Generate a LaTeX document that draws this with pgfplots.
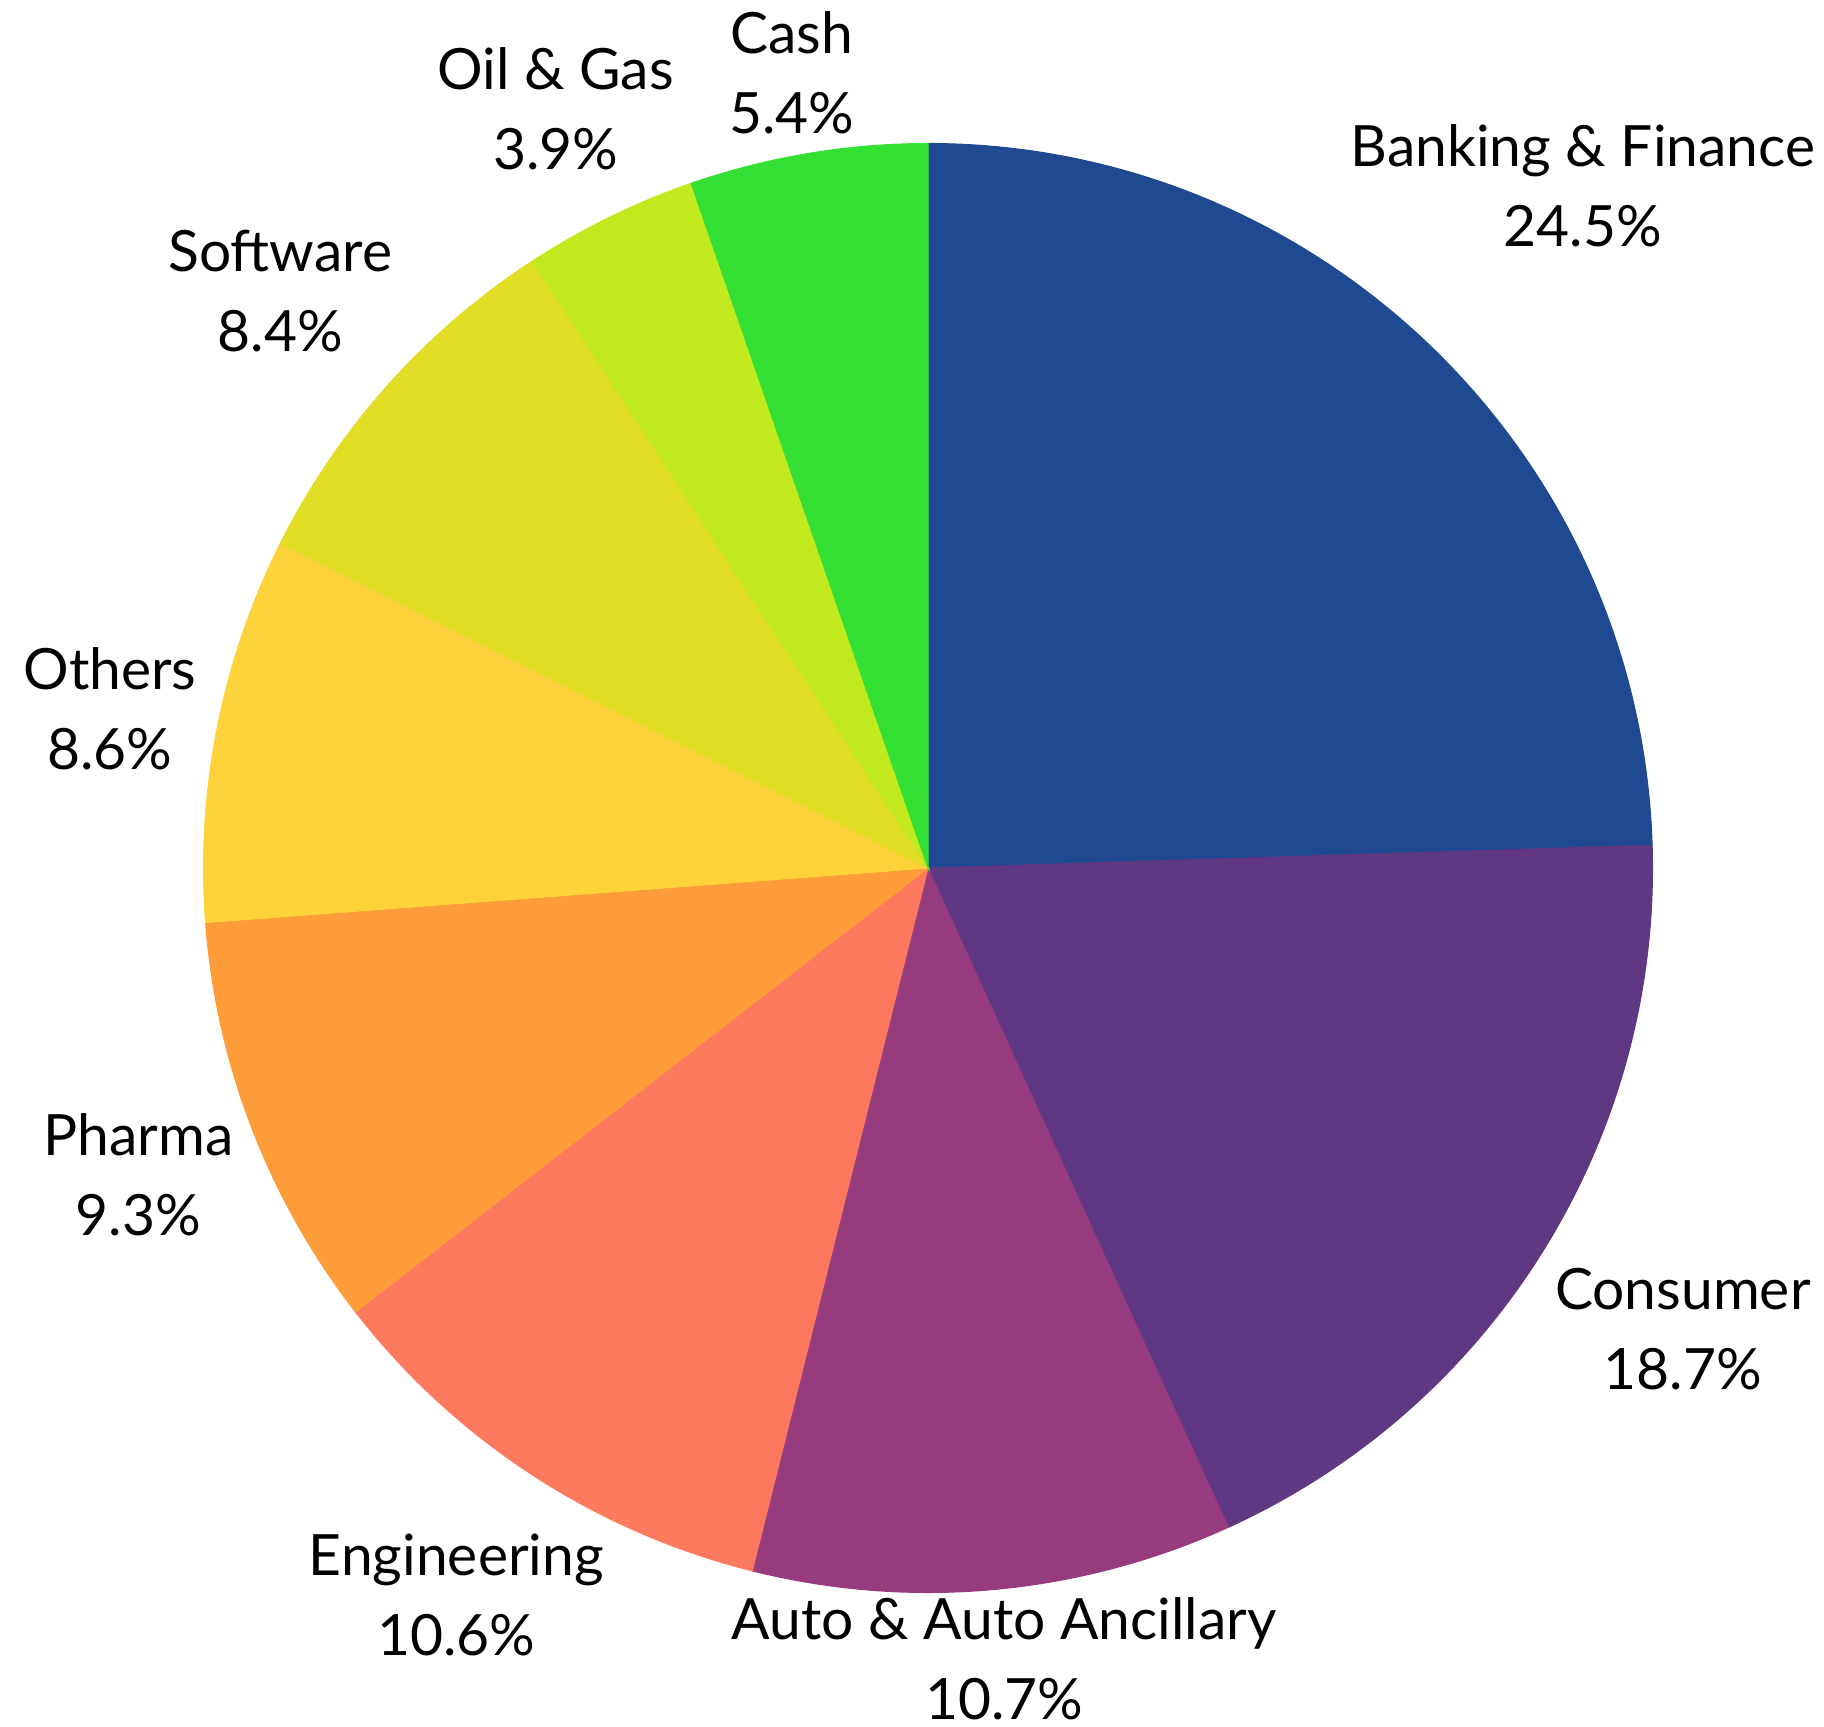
\documentclass[border=0pt]{standalone}
\usepackage{pgfplots}
\pgfplotsset{compat=1.18}
\usepackage{fontspec}
\setmainfont{Lato}
\definecolor{cBank}{RGB}{31,74,145}
\definecolor{cCons}{RGB}{96,55,131}
\definecolor{cAuto}{RGB}{151,59,127}
\definecolor{cEng}{RGB}{254,122,95}
\definecolor{cPhar}{RGB}{253,156,56}
\definecolor{cOth}{RGB}{254,210,58}
\definecolor{cSoft}{RGB}{226,221,37}
\definecolor{cOil}{RGB}{194,233,30}
\definecolor{cCash}{RGB}{53,224,53}
\def\R{7.245cm}
% #1 cumulative share before the slice, #2 share of the slice, #3 colour
\newcommand{\slice}[3]{%
  \fill[#3, draw=#3, line width=0.3pt] (axis cs:0,0) -- (axis cs:{cos(90-3.6*#1)},{sin(90-3.6*#1)})
    arc[start angle={90-3.6*#1}, end angle={90-3.6*(#1+#2)}, radius=\R] -- cycle;}
\newcommand{\lab}[3]{\node[overlay, align=center, inner sep=0pt, font=\fontsize{16.2}{22.8}\selectfont, text=black] at (axis cs:#1,#2) {#3};}
\begin{document}
\begin{tikzpicture}
\begin{axis}[x=7.245cm, y=7.245cm, scale only axis,
  xmin=-1.2809, xmax=1.2367, ymin=-1.1856, ymax=1.1981,
  hide axis, clip=false]
\path (rel axis cs:0,0) rectangle (rel axis cs:1,1);
\slice{0}{24.5}{cBank}
\slice{24.5}{18.7}{cCons}
\slice{43.2}{10.7}{cAuto}
\slice{53.9}{10.6}{cEng}
\slice{64.5}{9.3}{cPhar}
\slice{73.8}{8.6}{cOth}
\slice{82.4}{8.4}{cSoft}
\slice{90.8}{3.9}{cOil}
\slice{94.7}{5.3}{cCash}
\lab{0.904}{0.942}{Banking \& Finance\\24.5\%}
\lab{1.042}{-0.637}{Consumer\\18.7\%}
\lab{0.105}{-1.092}{Auto \& Auto Ancillary\\10.7\%}
\lab{-0.651}{-1.003}{Engineering\\10.6\%}
\lab{-1.090}{-0.423}{Pharma\\9.3\%}
\lab{-1.129}{0.220}{Others\\8.6\%}
\lab{-0.894}{0.796}{Software\\8.4\%}
\lab{-0.514}{1.048}{Oil \& Gas\\3.9\%}
\lab{-0.188}{1.098}{Cash\\5.4\%}
\end{axis}
\end{tikzpicture}
\end{document}
